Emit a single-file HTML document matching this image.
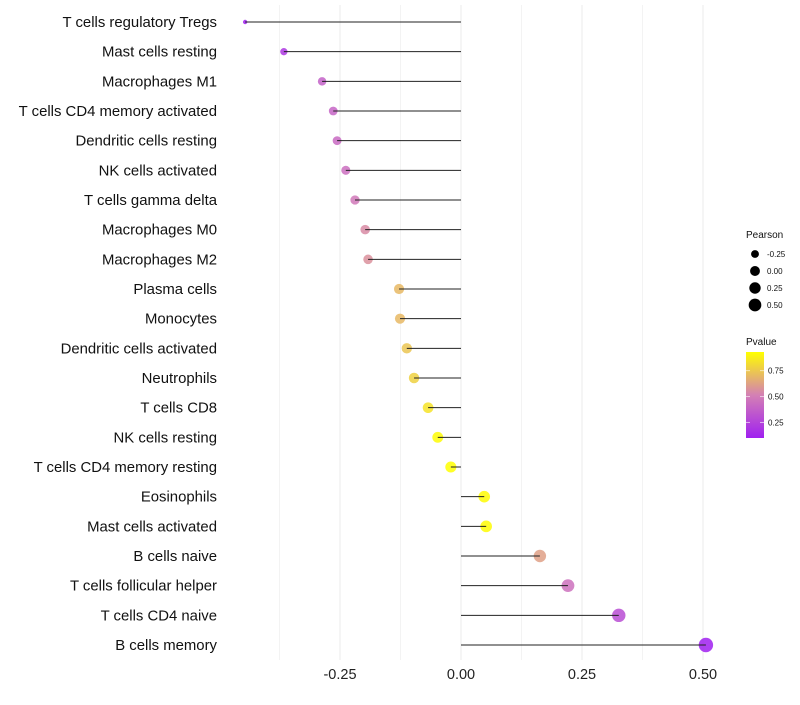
<!DOCTYPE html>
<html><head><meta charset="utf-8"><style>
body{margin:0;background:#fff;font-family:"Liberation Sans",sans-serif}
</style></head><body>
<svg id="c" width="800" height="700" xmlns="http://www.w3.org/2000/svg">
<defs><linearGradient id="pg" x1="0" y1="1" x2="0" y2="0">
<stop offset="0" stop-color="rgb(160,32,240)"/><stop offset="0.5" stop-color="rgb(212,128,180)"/><stop offset="1" stop-color="rgb(255,255,0)"/></linearGradient></defs>
<g id="grid"></g><g id="marks"></g><g id="labels"></g><g id="legend"></g>
</svg>
<script>
const categories=["T cells regulatory  Tregs","Mast cells resting","Macrophages M1","T cells CD4 memory activated","Dendritic cells resting","NK cells activated","T cells gamma delta","Macrophages M0","Macrophages M2","Plasma cells","Monocytes","Dendritic cells activated","Neutrophils","T cells CD8","NK cells resting","T cells CD4 memory resting","Eosinophils","Mast cells activated","B cells naive","T cells follicular helper","T cells CD4 naive","B cells memory"];
const pearson=[-0.446,-0.366,-0.287,-0.264,-0.256,-0.238,-0.219,-0.198,-0.192,-0.128,-0.126,-0.112,-0.097,-0.068,-0.048,-0.021,0.048,0.052,0.163,0.221,0.326,0.506];
const pvalue=[0.10,0.20,0.38,0.40,0.42,0.44,0.48,0.55,0.57,0.70,0.70,0.74,0.78,0.84,0.92,0.93,0.92,0.92,0.62,0.45,0.30,0.10];
const xTicks=[-0.25,0,0.25,0.5];
const xTickLabels=["-0.25","0.00","0.25","0.50"];
const sizeLegend=[-0.25,0,0.25,0.5];
const pTicks=[0.25,0.5,0.75];
const NS="http://www.w3.org/2000/svg";
const X=v=>461+v*484;
const Y=i=>22+i*(623/(categories.length-1));
const pmin=0.1,pmax=0.93;
function R(v){return 2.2+5*Math.sqrt(Math.max(0,(v+0.446)/0.952));}
function col(p){let t=Math.max(0,Math.min(1,(p-pmin)/(pmax-pmin)));
 const a=[160,32,240],b=[212,128,180],c=[255,255,0];let s,e,u;
 if(t<0.5){s=a;e=b;u=t*2}else{s=b;e=c;u=(t-0.5)*2}
 return `rgb(${s.map((x,k)=>Math.round(x+(e[k]-x)*u)).join(",")})`;}
function mk(tag,at,parent){const el=document.createElementNS(NS,tag);for(const k in at)el.setAttribute(k,at[k]);parent.appendChild(el);return el;}
const grid=document.getElementById('grid'),marks=document.getElementById('marks'),labels=document.getElementById('labels'),leg=document.getElementById('legend');
for(let i=0;i<xTicks.length;i++){
 const g=mk('line',{x1:X(xTicks[i]),x2:X(xTicks[i]),y1:5,y2:660,stroke:'#ebebeb','stroke-width':1},grid);
 
 
 const m=mk('line',{x1:X(xTicks[i]-0.125),x2:X(xTicks[i]-0.125),y1:5,y2:660,stroke:'#f3f3f3','stroke-width':1},grid);
 
 
 const t=mk('text',{x:X(xTicks[i]),y:679,'text-anchor':'middle','font-size':14.5,fill:'#222'},labels);
 t.textContent=xTickLabels[i];
 
 
}
categories.forEach((c,i)=>{
 const y=Y(i),v=pearson[i];
 const pt=mk('circle',{cx:X(v),cy:y,r:R(v),fill:col(pvalue[i]),'fill-opacity':0.85},marks);
 
 
 const ln=mk('line',{x1:X(0),x2:X(v),y1:y,y2:y,stroke:'#222','stroke-width':1},marks);
 
 
 const t=mk('text',{x:217,y:y+5,'text-anchor':'end','font-size':14.9,fill:'#111'},labels);
 t.textContent=c;
 
 
});
let tt=mk('text',{x:746,y:238,'font-size':10,fill:'#111'},leg);tt.textContent='Pearson';


sizeLegend.forEach((v,i)=>{const y=254+i*17;
 const c=mk('circle',{cx:755,cy:y,r:R(v)*0.88,fill:'#000'},leg);
 
 
 const t=mk('text',{x:767,y:y+3,'font-size':8,fill:'#111'},leg);t.textContent=v===0?'0.00':v.toFixed(2);
 
 });
tt=mk('text',{x:746,y:345,'font-size':10,fill:'#111'},leg);tt.textContent='Pvalue';


const bar=mk('rect',{x:746,y:352,width:18,height:86,fill:'url(#pg)'},leg);


pTicks.forEach(p=>{const y=352+86*(1-(p-pmin)/(pmax-pmin));
 mk('line',{x1:746,x2:750,y1:y,y2:y,stroke:'#fff','stroke-opacity':0.6},leg);
 mk('line',{x1:760,x2:764,y1:y,y2:y,stroke:'#fff','stroke-opacity':0.6},leg);
 const t=mk('text',{x:768,y:y+3,'font-size':8,fill:'#111'},leg);t.textContent=p.toFixed(2);
 
 });
</script>
</body></html>
